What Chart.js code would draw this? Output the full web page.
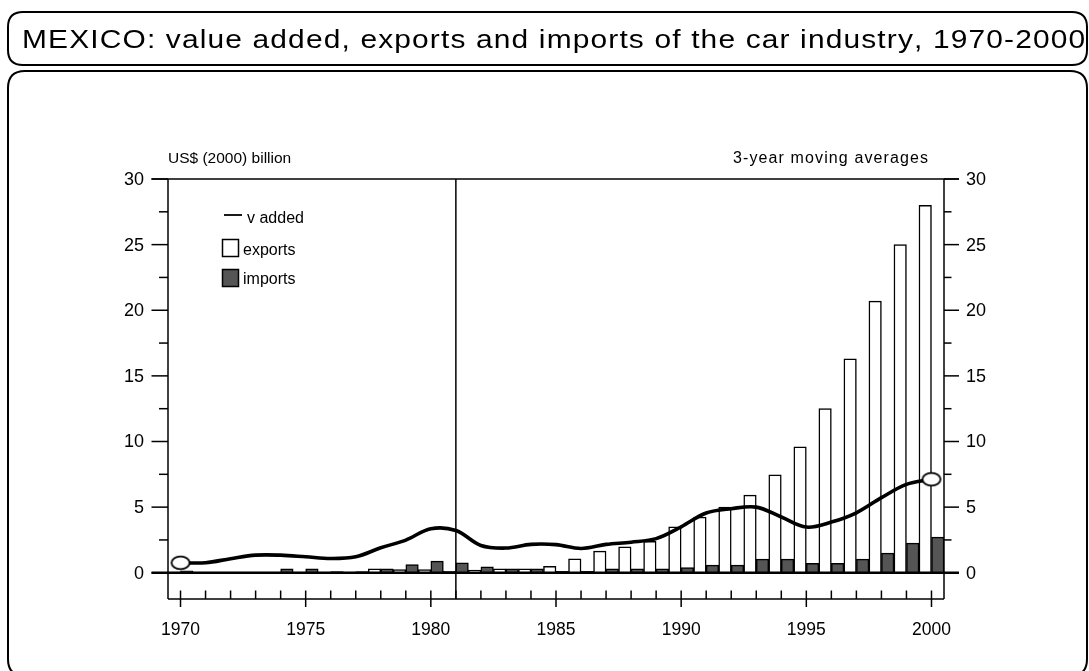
<!DOCTYPE html>
<html>
<head>
<meta charset="utf-8">
<script src="https://cdn.jsdelivr.net/npm/chart.js@4/dist/chart.umd.min.js"></script>
<style>
html,body{margin:0;padding:0;background:#fff;}
canvas{display:block;}
</style>
</head>
<body>
<canvas id="c" width="1089" height="671"></canvas>
<script>
// ---- data ----
const years = ['1970','1971','1972','1973','1974','1975','1976','1977','1978','1979',
               '1980','1981','1982','1983','1984','1985','1986','1987','1988','1989',
               '1990','1991','1992','1993','1994','1995','1996','1997','1998','1999','2000'];
const vAdded = [0.76,0.76,1.07,1.34,1.34,1.22,1.09,1.22,1.90,2.49,
                3.35,3.22,2.08,1.88,2.16,2.14,1.85,2.16,2.33,2.60,
                3.50,4.55,4.88,5.00,4.25,3.48,3.86,4.57,5.72,6.73,7.12];
const exportsData = [0.05,0.05,0.05,0.05,0.05,0.05,0.05,0.05,0.30,0.25,
                     0.25,0.10,0.20,0.30,0.30,0.48,1.07,1.65,1.98,2.39,
                     3.50,4.24,5.00,5.92,7.47,9.60,12.50,16.30,20.70,25.00,28.00];
const importsData = [0.15,0.05,0.05,0.05,0.30,0.30,0.08,0.08,0.30,0.63,
                     0.88,0.76,0.46,0.30,0.30,0.10,0.10,0.30,0.30,0.30,
                     0.40,0.58,0.58,1.04,1.04,0.71,0.71,1.04,1.50,2.26,2.72];
const yMajorTicks = [0,5,10,15,20,25,30];
const yMinorTicks = [2.5,7.5,12.5,17.5,22.5,27.5];
const xTickLabels = ['1970','1975','1980','1985','1990','1995','2000'];
const dividerYear = '1981';
const titleText = 'MEXICO: value added, exports and imports of the car industry, 1970-2000';
const unitText = 'US$ (2000) billion';
const noteText = '3-year moving averages';

const FONT = '"Liberation Sans", Arial, Helvetica, sans-serif';

// end-point marker
const mk = document.createElement('canvas');
mk.width = 22; mk.height = 16;
(function(){
  const m = mk.getContext('2d');
  m.beginPath();
  m.ellipse(11, 8, 9, 6.3, 0, 0, Math.PI * 2);
  m.fillStyle = '#fff'; m.fill();
  m.lineWidth = 1.8; m.strokeStyle = '#000'; m.stroke();
})();

function rr(ctx, x, y, w, h, r) {
  ctx.beginPath();
  ctx.moveTo(x + r, y);
  ctx.lineTo(x + w - r, y);
  ctx.quadraticCurveTo(x + w, y, x + w, y + r);
  ctx.lineTo(x + w, y + h - r);
  ctx.quadraticCurveTo(x + w, y + h, x + w - r, y + h);
  ctx.lineTo(x + r, y + h);
  ctx.quadraticCurveTo(x, y + h, x, y + h - r);
  ctx.lineTo(x, y + r);
  ctx.quadraticCurveTo(x, y, x + r, y);
  ctx.closePath();
}
function seg(ctx, x1, y1, x2, y2) {
  ctx.beginPath(); ctx.moveTo(x1, y1); ctx.lineTo(x2, y2); ctx.stroke();
}
function spacedText(ctx, text, x, y, targetW) {
  const n = text.length;
  const w0 = ctx.measureText(text).width;
  const sp = (targetW - w0) / (n - 1);
  let cx = x;
  ctx.textAlign = 'left';
  for (const ch of text) {
    ctx.fillText(ch, cx, y);
    cx += ctx.measureText(ch).width + sp;
  }
}

const deco = {
  id: 'deco',
  beforeDraw(chart) {
    const ctx = chart.ctx;
    ctx.save();
    ctx.fillStyle = '#fff';
    ctx.fillRect(0, 0, chart.width, chart.height);
    ctx.strokeStyle = '#000';
    ctx.lineWidth = 2;
    rr(ctx, 8, 12, 1079, 53, 15); ctx.stroke();
    rr(ctx, 8, 71, 1079, 605, 17); ctx.stroke();
    ctx.font = '26px ' + FONT;
    ctx.fillStyle = '#000';
    ctx.textBaseline = 'alphabetic';
    const sx = 1.15;
    ctx.translate(22, 48);
    ctx.scale(sx, 1);
    spacedText(ctx, titleText, 0, 0, 1061 / sx);
    ctx.restore();
  },
  afterDatasetsDraw(chart) {
    const ctx = chart.ctx;
    const xs = chart.scales.x, ys = chart.scales.y, a = chart.chartArea;
    const L = a.left, R = a.right, T = a.top, B = a.bottom;
    ctx.save();
    ctx.strokeStyle = '#000';
    ctx.fillStyle = '#000';
    ctx.lineWidth = 1.5;
    // frame
    seg(ctx, L, T, L, B);
    seg(ctx, R, T, R, B);
    seg(ctx, L, B, R, B);
    seg(ctx, L - 16.5, T, R + 15, T);
    // y ticks
    ctx.font = '18px ' + FONT;
    ctx.textBaseline = 'middle';
    yMajorTicks.forEach(v => {
      const py = ys.getPixelForValue(v);
      seg(ctx, L - 16.5, py, L, py);
      seg(ctx, R, py, R + 15, py);
      ctx.textAlign = 'right';
      ctx.fillText(String(v), L - 24, py + 1);
      ctx.textAlign = 'left';
      ctx.fillText(String(v), R + 22, py + 1);
    });
    yMinorTicks.forEach(v => {
      const py = ys.getPixelForValue(v);
      seg(ctx, L - 9, py, L, py);
      seg(ctx, R, py, R + 7.5, py);
    });
    // zero line
    const y0 = ys.getPixelForValue(0);
    ctx.lineWidth = 2.6;
    seg(ctx, L - 16.5, y0, R + 15, y0);
    // x ticks
    ctx.lineWidth = 1.5;
    ctx.textAlign = 'center';
    ctx.textBaseline = 'middle';
    ctx.font = '17.5px ' + FONT;
    years.forEach((yr, i) => {
      const px = xs.getPixelForValue(i);
      const major = xTickLabels.includes(yr);
      seg(ctx, px, B - 8.5, px, major ? B + 8 : B);
      if (major) ctx.fillText(yr, px, B + 31);
    });
    // divider
    const pd = xs.getPixelForValue(years.indexOf(dividerYear));
    seg(ctx, pd, T, pd, B);
    // captions
    ctx.textBaseline = 'alphabetic';
    ctx.font = '15.5px ' + FONT;
    ctx.textAlign = 'left';
    ctx.fillText(unitText, L, T - 16);
    ctx.font = '16px ' + FONT;
    spacedText(ctx, noteText, 733, T - 16, 195);
    // legend
    const ds = chart.data.datasets;
    ctx.font = '16px ' + FONT;
    ctx.textBaseline = 'middle';
    ctx.textAlign = 'left';
    ctx.lineWidth = 1.8;
    seg(ctx, 224, 215, 242, 215);
    ctx.fillText(ds[0].label, 247, 219);
    ctx.lineWidth = 1.5;
    ctx.fillStyle = ds[1].backgroundColor;
    ctx.fillRect(222.5, 239.5, 16, 17);
    ctx.strokeRect(222.5, 239.5, 16, 17);
    ctx.fillStyle = '#000';
    ctx.fillText(ds[1].label, 243, 251);
    ctx.fillStyle = ds[2].backgroundColor;
    ctx.fillRect(222.5, 269.5, 16, 17);
    ctx.strokeRect(222.5, 269.5, 16, 17);
    ctx.fillStyle = '#000';
    ctx.fillText(ds[2].label, 243, 280);
    ctx.restore();
  }
};

new Chart(document.getElementById('c'), {
  data: {
    labels: years,
    datasets: [
      {
        type: 'line', label: 'v added', data: vAdded, order: 0,
        borderColor: '#000', borderWidth: 3.6, tension: 0.35, fill: false,
        pointStyle: mk,
        pointRadius: c => (c.dataIndex === 0 || c.dataIndex === years.length - 1) ? 9 : 0,
        pointHoverRadius: 0
      },
      {
        type: 'bar', label: 'exports', data: exportsData, order: 1,
        backgroundColor: '#ffffff', borderColor: '#000', borderWidth: 1.5,
        barPercentage: 1, categoryPercentage: 1
      },
      {
        type: 'bar', label: 'imports', data: importsData, order: 1,
        backgroundColor: '#555555', borderColor: '#000', borderWidth: 1.5,
        barPercentage: 1, categoryPercentage: 1
      }
    ]
  },
  options: {
    responsive: false,
    animation: false,
    devicePixelRatio: 1,
    events: [],
    layout: { padding: { left: 168, right: 145, top: 179, bottom: 72 } },
    scales: {
      x: { type: 'category', display: false, offset: true },
      y: { type: 'linear', display: false, min: -2, max: 30 }
    },
    plugins: { legend: { display: false }, tooltip: { enabled: false } }
  },
  plugins: [deco]
});
</script>
</body>
</html>
